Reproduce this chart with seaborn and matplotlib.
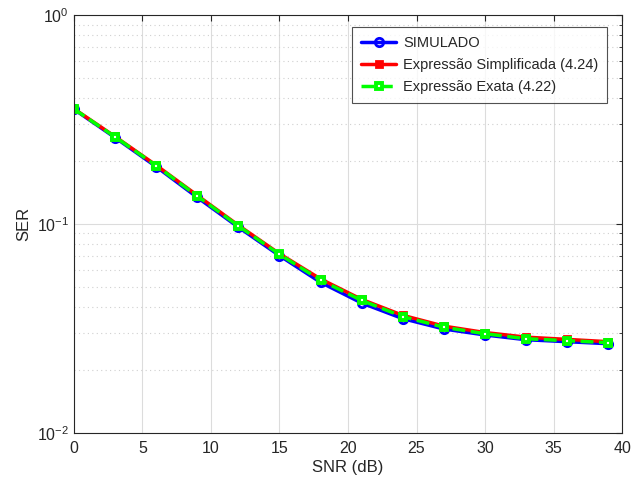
import numpy as np
import pandas as pd
import matplotlib
matplotlib.use("Agg")
import matplotlib.pyplot as plt
import seaborn as sns
from matplotlib.ticker import LogLocator, NullFormatter

snr = [0, 3, 6, 9, 12, 15, 18, 21, 24, 27, 30, 33, 36, 39]
ser_sim = [0.354, 0.259, 0.188, 0.134, 0.0965, 0.0705, 0.0525, 0.0418, 0.0352, 0.0314, 0.0294, 0.0279, 0.0273, 0.0267]
ser_simp = [0.356, 0.262, 0.191, 0.137, 0.0985, 0.0720, 0.0545, 0.0435, 0.0365, 0.0324, 0.0302, 0.0287, 0.0280, 0.0273]
ser_exata = [0.355, 0.261, 0.190, 0.136, 0.0978, 0.0715, 0.0538, 0.0430, 0.0360, 0.0320, 0.0298, 0.0282, 0.0276, 0.0270]
labels = ["SIMULADO", "Expressão Simplificada (4.24)", "Expressão Exata (4.22)"]

sns.set_style("white")
plt.rcParams['font.family'] = ['Liberation Sans', 'DejaVu Sans']

fig = plt.figure(figsize=(6.31, 4.82), dpi=100)
ax = fig.add_axes([0.117, 0.102, 0.869, 0.867])

df = pd.DataFrame({"SNR": snr * 3,
                   "SER": ser_sim + ser_simp + ser_exata,
                   "serie": [labels[0]] * len(snr) + [labels[1]] * len(snr) + [labels[2]] * len(snr)})

styles = [
    dict(color="#0000ff", ls="-", marker="o", mfc="none", mec="#0000ff", ms=6, mew=2, lw=2.5),
    dict(color="#ff0000", ls="-", marker="s", mfc="#ff0000", mec="#ff0000", ms=5, mew=2, lw=2.5),
    dict(color="#00ff00", ls="--", marker="s", mfc="white", mec="#00ff00", ms=5, mew=2.8, lw=2.5, dashes=(3, 2)),
]
for lab, st in zip(labels, styles):
    sub = df[df["serie"] == lab]
    sns.lineplot(data=sub, x="SNR", y="SER", ax=ax, label=lab,
                 color=st["color"], linestyle=st["ls"], marker=st["marker"],
                 markerfacecolor=st["mfc"], markeredgecolor=st["mec"],
                 markersize=st["ms"], markeredgewidth=st["mew"], linewidth=st["lw"],
                 **({"dashes": st["dashes"]} if "dashes" in st else {}))

ax.set_yscale("log")
ax.set_xlim(0, 40)
ax.set_ylim(1e-2, 1)
ax.set_xticks(range(0, 41, 5))
ax.yaxis.set_major_locator(LogLocator(base=10, numticks=10))
ax.yaxis.set_minor_locator(LogLocator(base=10, subs=np.arange(2, 10), numticks=20))
ax.yaxis.set_minor_formatter(NullFormatter())

ax.grid(True, which="major", axis="both", color="#dcdcdc", lw=0.8, ls="-")
ax.grid(True, which="minor", axis="y", color="#d0d0d0", lw=0.8, ls=(0, (1, 3)))
ax.set_axisbelow(True)

for s in ax.spines.values():
    s.set_color("#262626")
    s.set_linewidth(0.8)
ax.tick_params(which="both", direction="in", top=True, right=True, colors="#262626",
               labelsize=11.5, length=4)
ax.tick_params(axis="x", pad=6)
ax.tick_params(which="minor", length=2)

ax.set_xlabel("SNR (dB)", fontsize=12, color="#262626", labelpad=3)
ax.set_ylabel("SER", fontsize=12, color="#262626", labelpad=4)

leg = ax.legend(loc="upper right", bbox_to_anchor=(0.973, 0.971), borderaxespad=0,
                fontsize=10.5, frameon=True, fancybox=False, edgecolor="#262626",
                handlelength=2.4, borderpad=0.6, labelspacing=0.55, handletextpad=0.5)
leg.get_frame().set_linewidth(0.8)

fig.savefig("out.png", dpi=100)
